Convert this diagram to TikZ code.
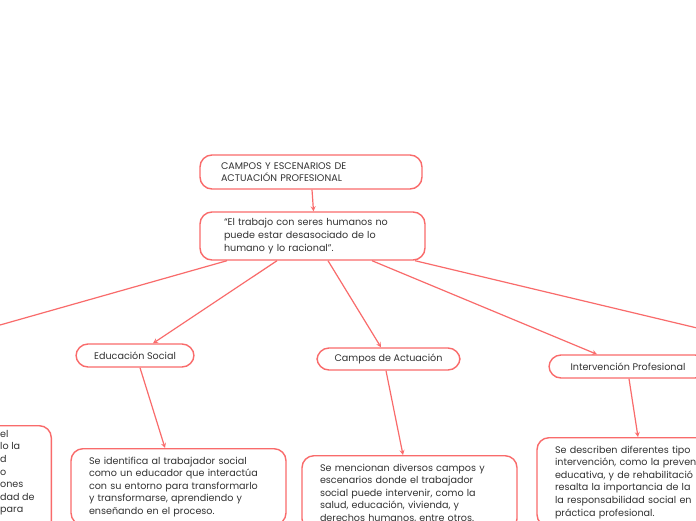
\documentclass[tikz,border=0pt]{standalone}
\usepackage{fontspec}
\setmainfont{Poppins}
\usepackage{tikz}
\usetikzlibrary{arrows}
\usetikzlibrary{positioning}
\usetikzlibrary{calc}
\definecolor{mmred}{HTML}{F96B6B}
\definecolor{mmtext}{HTML}{333333}
\tikzset{
	box/.style={draw=mmred,line width=1.4pt,rounded corners=12pt,fill=white,text=mmtext,font=\fontsize{9.6}{12.6}\selectfont},
	topic/.style={box,align=center,inner sep=0pt},
	desc/.style={box,align=left,anchor=north,text width=179pt,inner xsep=18pt,inner ysep=8pt}
	,conn/.style={draw=mmred,line width=1.2pt,-stealth},
	plain/.style={draw=mmred,line width=1.2pt}
}
\begin{document}
\begin{tikzpicture}[x=1pt,y=-1pt]
	\useasboundingbox[fill=white] (0,0) rectangle (696,520);
	\clip (0,0) rectangle (696,520);
	% top of the map
	\node[box,align=left,text width=180pt,inner xsep=21pt,inner ysep=0pt,minimum height=34pt](root) at (311,172){CAMPOS Y ESCENARIOS DE\\ACTUACIÓN PROFESIONAL};
	\node[box,align=left,text width=177pt,inner xsep=24pt,inner ysep=0pt,minimum height=48pt](quote) at (312.5,236){“El trabajo con seres humanos no\\puede estar desasociado de lo\\humano y lo racional”.};
	\draw[conn] ([xshift=1pt]root.south) -- ([xshift=1pt]quote.north);
	% topics
	\node[topic,minimum width=118pt,minimum height=23pt](edu) at (135,355.5){Educación Social};
	\node[topic,minimum width=143pt,minimum height=22pt](campos) at (388.5,359){Campos de Actuación};
	\node[topic,minimum width=158pt,minimum height=23pt](interv) at (628,366.5){Intervención Profesional};
	\coordinate (lefttopic) at (-60,342);
	\coordinate (righttopic) at (760,343);
	\draw[plain] ([xshift=-85.5pt]quote.south) -- (lefttopic);
	\draw[conn] ([xshift=-35.5pt]quote.south) -- ([xshift=18pt]edu.north);
	\draw[conn] ([xshift=15.5pt]quote.south) -- ([xshift=-7.5pt]campos.north);
	\draw[conn] ([xshift=59.5pt]quote.south) -- ([xshift=-31pt]interv.north);
	\draw[plain] ([xshift=102.5pt]quote.south) -- (righttopic);
	% descriptions
	\node[desc](edudesc) at (178.5,448){Se identifica al trabajador social\\como un educador que interactúa\\con su entorno para transformarlo\\y transformarse, aprendiendo y\\enseñando en el proceso.};
	\node[desc](camposdesc) at (409.5,455){Se mencionan diversos campos y\\escenarios donde el trabajador\\social puede intervenir, como la\\salud, educación, vivienda, y\\derechos humanos, entre otros.};
	\node[desc](intervdesc) at (644.5,437){Se describen diferentes tipo\\intervención, como la preven\\educativa, y de rehabilitació\\resalta la importancia de la\\la responsabilidad social en\\práctica profesional.};
	\node[box,anchor=north east,minimum width=215pt,minimum height=110pt](leftdesc) at (52,425){};
	\node[anchor=north west,align=left,inner sep=0pt,text=mmtext,font=\fontsize{9.6}{12.6}\selectfont](leftfrag) at (0,430){el\\lo la\\d\\o\\ones\\dad de\\para};
	\draw[conn] ([xshift=5pt]edu.south) -- ([xshift=-13.5pt]edudesc.north);
	\draw[conn] ([xshift=-2.5pt]campos.south) -- ([xshift=-6.5pt]camposdesc.north);
	\draw[conn] ([xshift=1pt]interv.south) -- ([xshift=-6.5pt]intervdesc.north);
\end{tikzpicture}
\end{document}
